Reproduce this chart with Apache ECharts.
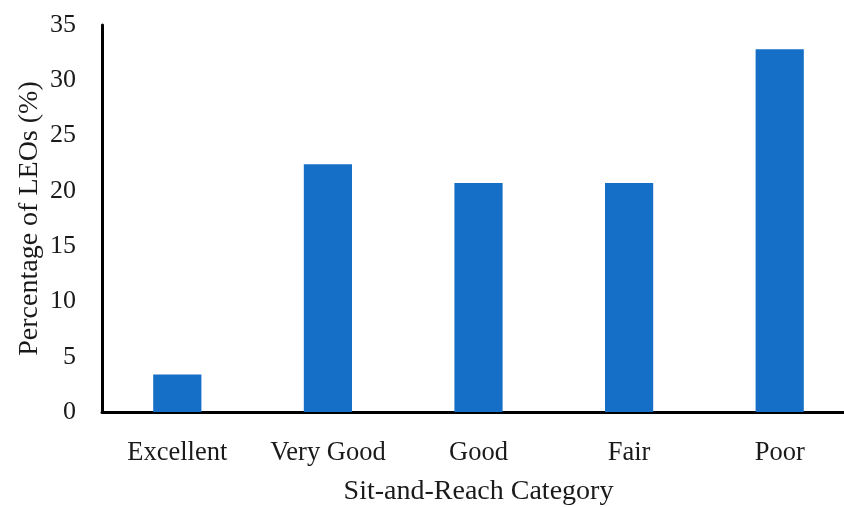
<!DOCTYPE html>
<html>
<head>
<meta charset="utf-8">
<script src="https://cdn.jsdelivr.net/npm/echarts@6/dist/echarts.min.js"></script>
<style>
  html, body { margin: 0; padding: 0; background: #fff; }
  #chart { width: 844px; height: 507px; }
</style>
</head>
<body>
<div id="chart"></div>
<script>
// Share of LEOs in each sit-and-reach flexibility category
const categories = ['Excellent', 'Very Good', 'Good', 'Fair', 'Poor'];
const percentages = [3.4, 22.4, 20.7, 20.7, 32.8];
const yTicks = [0, 5, 10, 15, 20, 25, 30, 35];

const FONT = '"Liberation Serif", "Times New Roman", serif';
const TEXT = '#1a1a1a';

const chart = echarts.init(document.getElementById('chart'));
chart.setOption({
  animation: false,
  grid: {
    left: 102, top: 25, width: 753, bottom: 95,
    containLabel: false,
    outerBoundsMode: 'none'
  },
  xAxis: {
    type: 'category',
    data: categories,
    name: 'Sit-and-Reach Category',
    nameLocation: 'middle',
    nameGap: 66,
    nameMoveOverlap: false,
    nameTextStyle: { fontFamily: FONT, fontSize: 28, color: TEXT },
    axisLine: { lineStyle: { color: '#000', width: 3 } },
    axisTick: { show: false },
    axisLabel: { fontFamily: FONT, fontSize: 26.5, color: TEXT, margin: 28 }
  },
  yAxis: {
    type: 'value',
    min: yTicks[0],
    max: yTicks[yTicks.length - 1],
    interval: 5,
    name: 'Percentage of LEOs (%)',
    nameLocation: 'middle',
    nameGap: 58,
    nameMoveOverlap: false,
    nameTextStyle: { fontFamily: FONT, fontSize: 28, color: TEXT },
    axisLine: { show: true, lineStyle: { color: '#000', width: 3 } },
    axisTick: { show: false },
    splitLine: { show: false },
    axisLabel: { fontFamily: FONT, fontSize: 26, color: TEXT, margin: 26 }
  },
  series: [{
    type: 'bar',
    data: percentages,
    barWidth: '32%',
    itemStyle: { color: '#156FC6' }
  }]
});
</script>
</body>
</html>
